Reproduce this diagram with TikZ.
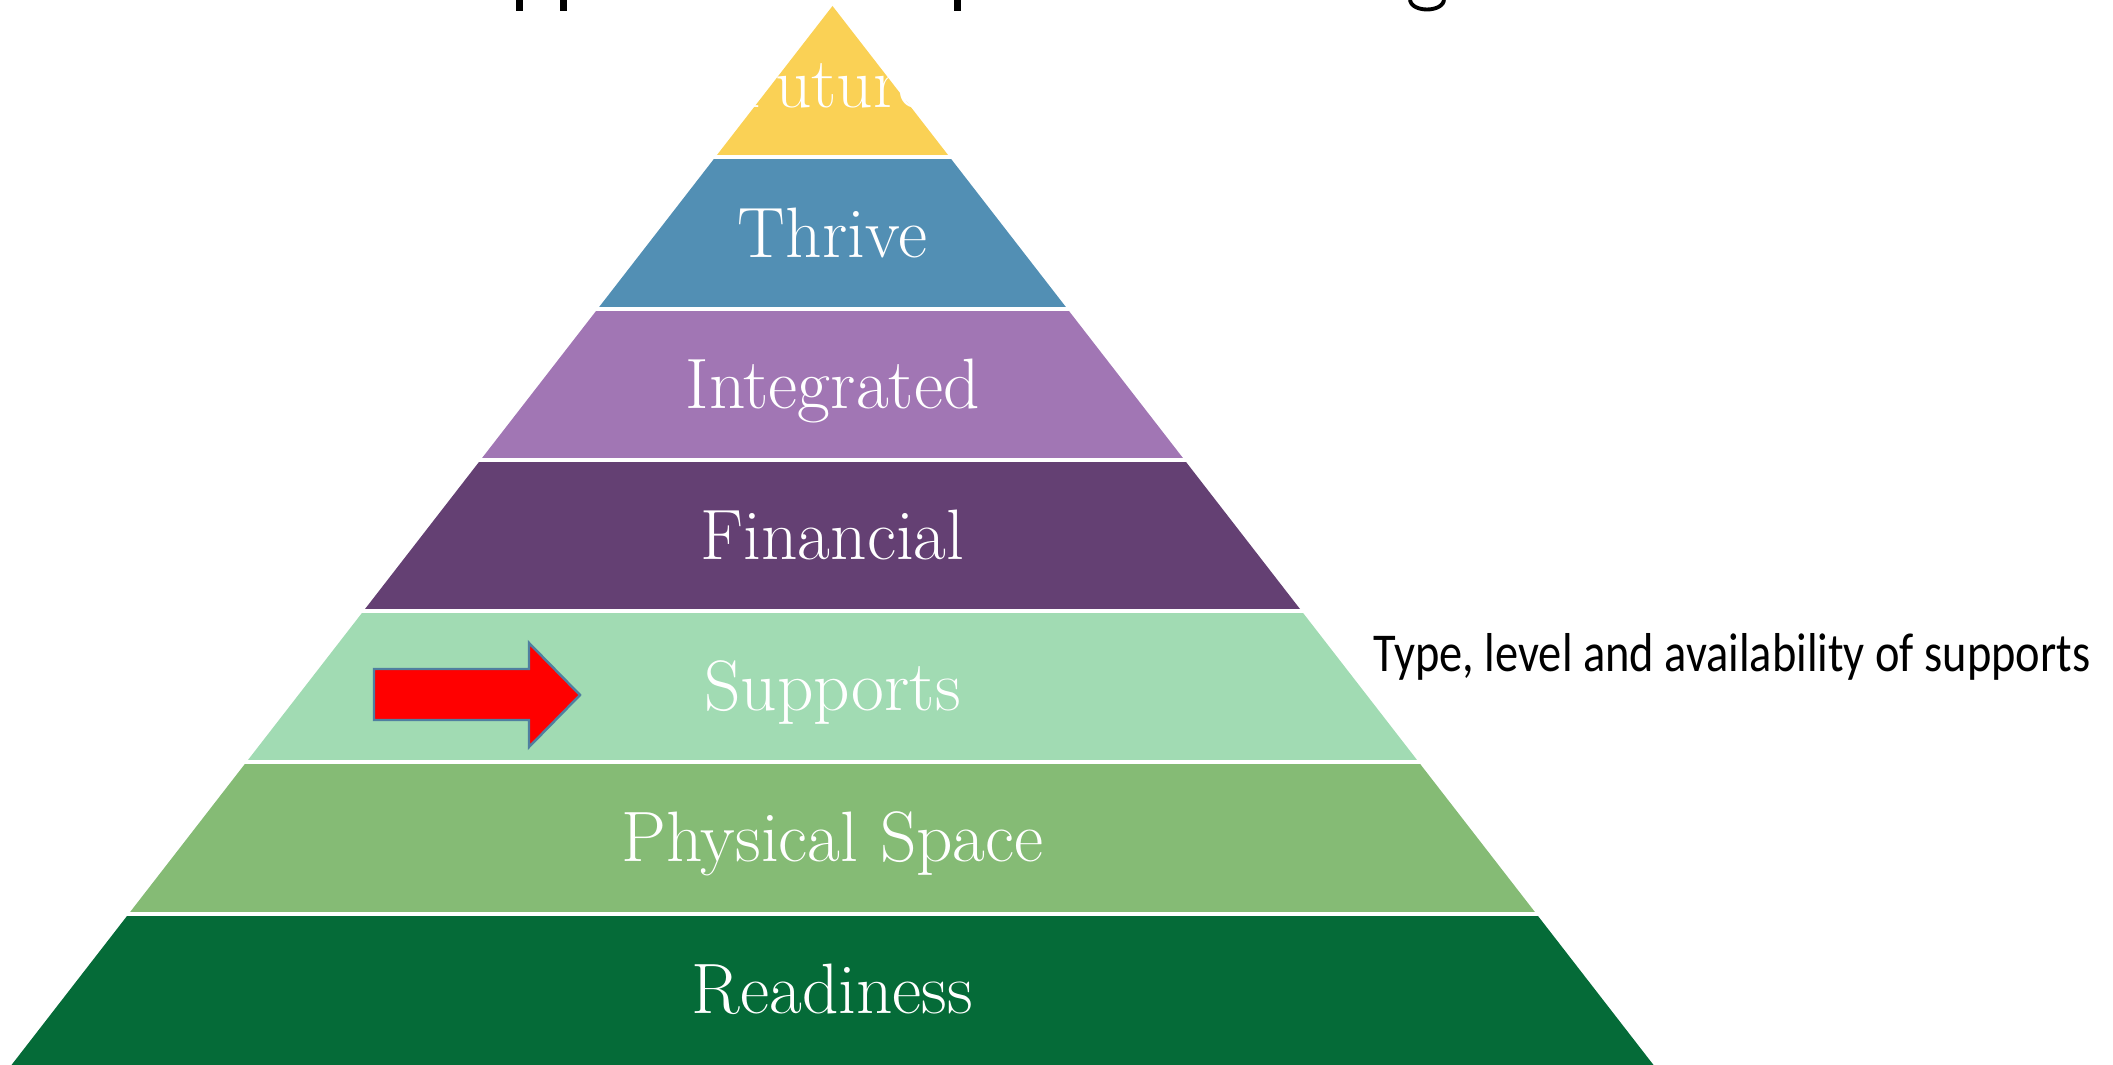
\documentclass[tikz,border=0pt]{standalone}
\usepackage{fontspec}
\newfontfamily\sidefont{Carlito}
\definecolor{cyellow}{HTML}{FAD155}
\definecolor{cblue}{HTML}{528FB4}
\definecolor{clpurple}{HTML}{A176B4}
\definecolor{cdpurple}{HTML}{644073}
\definecolor{clgreen}{HTML}{A1DBB3}
\definecolor{cmgreen}{HTML}{85BB75}
\definecolor{cdgreen}{HTML}{056B38}
\definecolor{arrowedge}{HTML}{4F7FA0}
\begin{document}
\begin{tikzpicture}[x=0.01cm,y=-0.01cm,
  layerlabel/.style={text=white,anchor=base,inner sep=0pt,font=\fontsize{20.3}{23}\selectfont},
  sep/.style={white,line width=1.1pt},
  frag/.style={fill=black,draw=none}]
\useasboundingbox (0,0) rectangle (2113,1065);
% layers
\fill[cyellow]  (832.5,6) -- (949.8,157.3) -- (715.2,157.3) -- cycle;
\fill[cblue]    (715.2,157.3) -- (949.8,157.3) -- (1067.1,308.6) -- (597.9,308.6) -- cycle;
\fill[clpurple] (597.9,308.6) -- (1067.1,308.6) -- (1184.4,459.9) -- (480.6,459.9) -- cycle;
\fill[cdpurple] (480.6,459.9) -- (1184.4,459.9) -- (1301.6,611.1) -- (363.4,611.1) -- cycle;
\fill[clgreen]  (363.4,611.1) -- (1301.6,611.1) -- (1418.9,762.4) -- (246.1,762.4) -- cycle;
\fill[cmgreen]  (246.1,762.4) -- (1418.9,762.4) -- (1536.2,913.7) -- (128.8,913.7) -- cycle;
\fill[cdgreen]  (128.8,913.7) -- (1536.2,913.7) -- (1653.5,1065) -- (11.5,1065) -- cycle;
% separators
\foreach \yy in {157.3,308.6,459.9,611.1,762.4,913.7}
  \draw[sep] (0,\yy) -- (1700,\yy);
% labels
\node[layerlabel] (future) at (832.5,108) {Future};
\node[layerlabel] (thrive) at (832.5,258) {Thrive};
\node[layerlabel] (integrated) at (832.5,409) {Integrated};
\node[layerlabel] (financial) at (832.5,560) {Financial};
\node[layerlabel] (supports) at (832.5,711) {Supports};
\node[layerlabel] (physical) at (832.5,862) {Physical Space};
\node[layerlabel] (readiness) at (832.5,1013) {Readiness};
% arrow
\filldraw[fill=red,draw=arrowedge,line width=0.7pt,line join=miter]
  (374,669) -- (529,669) -- (529,643) -- (580,695) -- (529,747) -- (529,720) -- (374,720) -- cycle;
% side text
\node[anchor=base west,inner sep=0pt,font=\sidefont\fontsize{13.2}{15}\selectfont] (sidetext) at (1373,672) {\scalebox{1}[1.18]{Type, level and availability of supports}};
% clipped title fragments
\fill[frag] (516,0) rectangle (523,11);
\fill[frag] (560,0) rectangle (567,11);
\fill[frag] (954,0) rectangle (961,11);
\draw[black,line width=1.1pt] (1410,-1) .. controls (1410,13) and (1444,13) .. (1444,-1);
\end{tikzpicture}
\end{document}
